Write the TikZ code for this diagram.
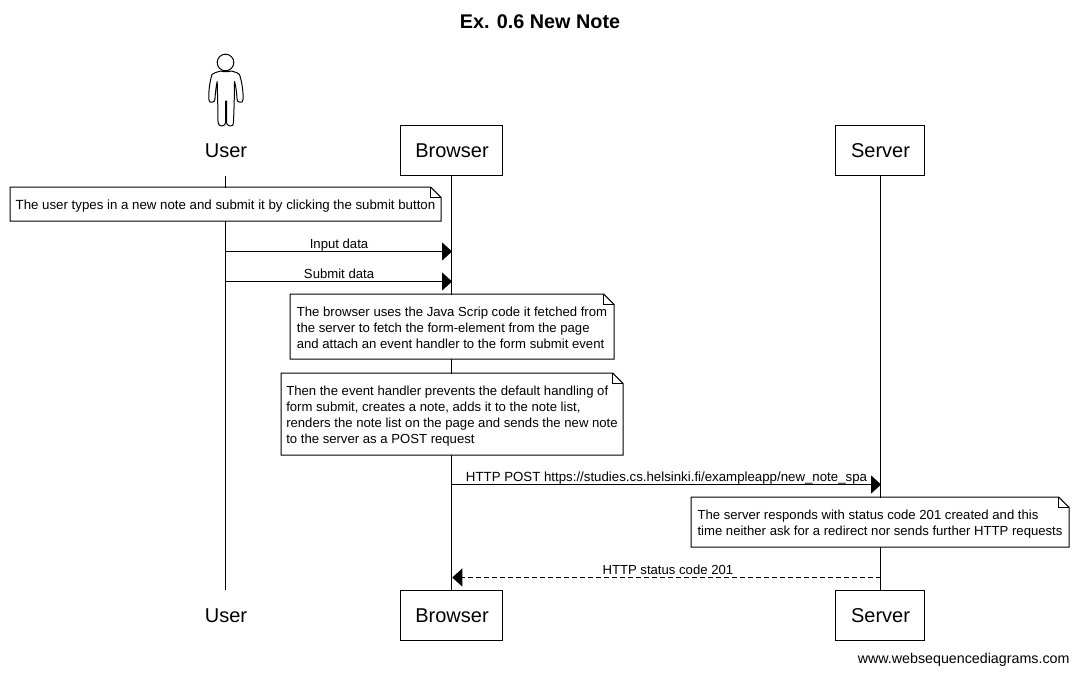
\documentclass[tikz,border=0pt]{standalone}
\usepackage{fontspec}
\usepackage{tikz}
\usetikzlibrary{arrows.meta}
\setmainfont{Liberation Sans}

\tikzset{
    actorbox/.style={draw, fill=white, minimum height=37.5pt, inner sep=0pt, font=\fontsize{15}{18}\selectfont},
    actorname/.style={actorbox, draw=none, fill=none},
    notebox/.style={fill=white, inner sep=0pt, align=left, font=\fontsize{9.85}{12}\selectfont},
    msg/.style={-{Triangle[length=7.5pt, width=13.5pt]}},
    msglabel/.style={inner sep=1.6pt, text depth=0pt, xshift=0.4pt, font=\fontsize{9.85}{12}\selectfont}
}
% outline of a note, with its folded corner
\newcommand{\notefold}[1]{
    \draw (#1.south west) -- (#1.north west) -- ([xshift=-7.75pt]#1.north east)
        -- ([yshift=-7.75pt]#1.north east) -- (#1.south east) -- cycle;
    \draw ([xshift=-7.75pt]#1.north east) -- ([xshift=-7.75pt, yshift=-7.75pt]#1.north east)
        -- ([yshift=-7.75pt]#1.north east);
}

\begin{document}
\begin{tikzpicture}[x=0.75pt, y=-0.75pt, line width=0.75pt, node distance = 348.75pt]
    \useasboundingbox (-0.5,-0.5) rectangle (1077.5,673.5);

    \node (title) [font=\bfseries\fontsize{14.85}{18}\selectfont] at (539.5,21.5) {Ex. 0.6 New Note};

    \node (user) [actorname, minimum width=50pt] at (225,150) {\hspace{0.75pt}User};
    \node (browser) [actorbox, minimum width=76.5pt] at (451,150) {\hspace{0.75pt}Browser};
    \node (server) [actorbox, minimum width=66.75pt] at (879.5,150) {\hspace{0.75pt}Server};
    \node (userend) [actorname, minimum width=50pt, below of=user] {\hspace{0.75pt}User};
    \node (browserend) [actorbox, minimum width=76.5pt, below of=browser] {\hspace{0.75pt}Browser};
    \node (serverend) [actorbox, minimum width=66.75pt, below of=server] {\hspace{0.75pt}Server};
    \coordinate (serverline) at (880,0);

    \draw (user) -- (userend);
    \draw (browser.south) -- (browserend.north);
    \draw (serverline |- server.south) -- (serverline |- serverend.north);

    % stick figure
    \draw (225,62) circle (8.3);
    \draw[line join=round] (220,70.5) .. controls (216,72) and (213,72) .. (211.5,74)
        .. controls (209.5,80) and (208,90) .. (208.3,99)
        .. controls (208.5,102) and (210,102) .. (212,101.7)
        .. controls (214,101.5) and (214.5,100) .. (214.5,98)
        .. controls (215,90) and (216,84) .. (216.7,81)
        .. controls (217,95) and (217.5,110) .. (217.5,121)
        .. controls (218,125) and (220,126) .. (221.5,125.5)
        .. controls (224,125) and (225,124) .. (225,122)
        -- (225,100.5) -- (226,100.5) -- (226,122)
        .. controls (226,124) and (227.5,125) .. (229.5,125.5)
        .. controls (231.5,126) and (233,125) .. (233,121)
        .. controls (233.5,110) and (234,95) .. (234,81)
        .. controls (235,84) and (236,90) .. (236.5,98)
        .. controls (236.5,100) and (237,101.5) .. (239,101.7)
        .. controls (241,102) and (242.5,102) .. (242.5,99)
        .. controls (243,90) and (241,80) .. (239,74)
        .. controls (238,72) and (235,72) .. (231,70.5)
        .. controls (227,71.5) and (224,71.5) .. (220,70.5);

    % messages
    \coordinate (inputrow) at (0,251);
    \coordinate (submitrow) at (0,281);
    \coordinate (postrow) at (0,484);
    \coordinate (statusrow) at (0,577);
    \draw[msg, shorten >=-0.4pt] (user |- inputrow) -- (browser |- inputrow) node[midway, above, msglabel]{Input data};
    \draw[msg, shorten >=-0.4pt] (user |- submitrow) -- (browser |- submitrow) node[midway, above, msglabel]{Submit data};
    \draw[msg, shorten >=-0.4pt] (browser |- postrow) -- (serverline |- postrow) node[midway, above, msglabel, font=\fontsize{9.95}{12}\selectfont]{HTTP POST https://studies.cs.helsinki.fi/exampleapp/new\_note\_spa};
    \draw[msg, dash pattern=on 3.75pt off 2.25pt, shorten >=0.6pt] (serverline |- statusrow) -- (browser |- statusrow) node[midway, above, msglabel, xshift=1pt]{HTTP status code 201};

    % notes
    \node (typenote) [notebox, minimum width=322.5pt, minimum height=24.75pt, font=\fontsize{9.95}{12}\selectfont] at (225,203.5)
        {\rule{0pt}{9.6pt}The user types in a new note and submit it by clicking the submit button};
    \notefold{typenote}
    \node (scriptnote) [notebox, minimum width=242.25pt, minimum height=48pt] at (451.5,326)
        {\rule{0pt}{9.6pt}The browser uses the Java Scrip code it fetched from\\
        the server to fetch the form-element from the page\\
        and attach an event handler to the form submit event};
    \notefold{scriptnote}
    \node (handlernote) [notebox, minimum width=255.75pt, minimum height=60.75pt] at (451.5,413.5)
        {\rule{0pt}{9.8pt}Then the event handler prevents the default handling of\\
        form submit, creates a note, adds it to the note list,\\
        renders the note list on the page and sends the new note\\
        to the server as a POST request};
    \notefold{handlernote}
    \node (replynote) [notebox, minimum width=282.75pt, minimum height=36.75pt] at (879.5,521.5)
        {\rule{0pt}{10.8pt}The server responds with status code 201 created and this\\
        time neither ask for a redirect nor sends further HTTP requests};
    \notefold{replynote}

    \node (credit) [anchor=east, inner sep=0pt, font=\fontsize{10.7}{13}\selectfont] at (1069.5,659.5) {www.websequencediagrams.com};
\end{tikzpicture}
\end{document}
